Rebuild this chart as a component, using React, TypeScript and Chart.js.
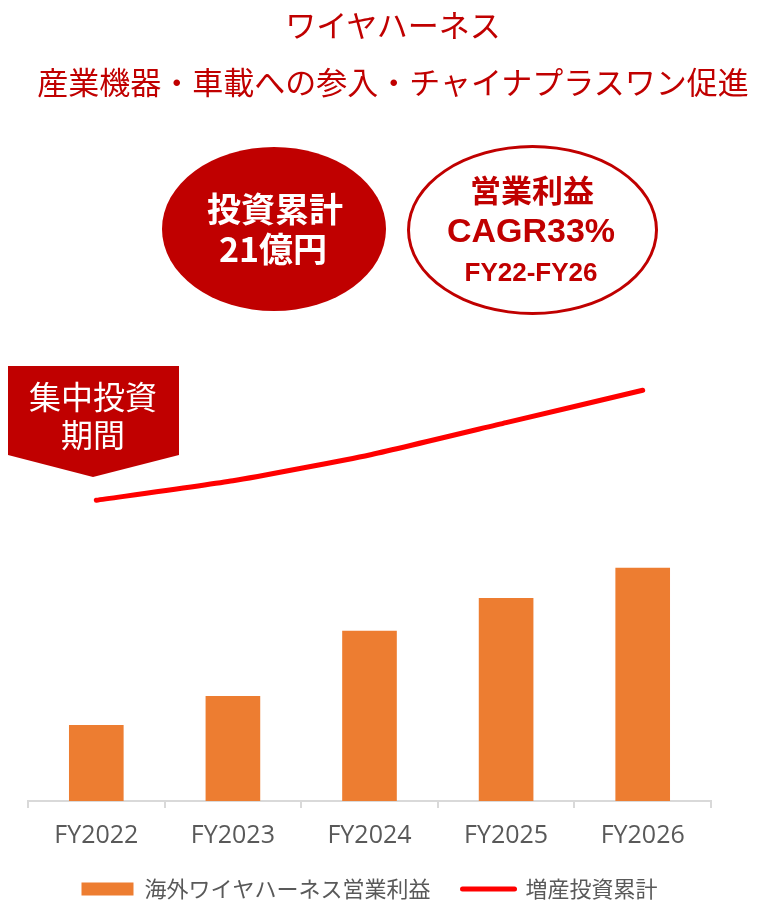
import React, { useEffect, useRef } from 'react';
import { Chart, registerables } from 'chart.js';

Chart.register(...registerables);

// ---- data ----
const categories = ['FY2022', 'FY2023', 'FY2024', 'FY2025', 'FY2026'];
const profitIndex = [100, 138, 224, 267, 307]; // 海外ワイヤハーネス営業利益 (FY2022 = 100)
const investCumulative = [4, 7, 11, 16, 21]; // 増産投資累計 (億円, estimated)
const profitLabel = '海外ワイヤハーネス営業利益';
const investLabel = '増産投資累計';
const titleLines = ['ワイヤハーネス', '産業機器・車載への参入・チャイナプラスワン促進'];
const leftBadge = ['投資累計', '21億円'];
const rightBadge = ['営業利益', 'CAGR33%', 'FY22-FY26'];
const bannerLines = ['集中投資', '期間'];

const RED = '#C00000';
const ORANGE = '#ED7D31';
const LINE_RED = '#FF0000';
const GREY = '#595959';
const AXIS = '#D9D9D9';
const JP = "'Noto Sans CJK JP', 'Noto Sans', sans-serif";
const LATIN_BOLD = "'Liberation Sans', Arial, sans-serif";

type TxtProps = {
  x: number;
  y: number;
  w: number;
  size: number;
  weight?: number;
  color: string;
  family?: string;
  k?: number;
  children: React.ReactNode;
};

function Txt({ x, y, w, size, weight = 400, color, family = JP, k = 0.64, children }: TxtProps) {
  return (
    <div
      style={{
        position: 'absolute',
        left: x - w / 2,
        top: y - k * size,
        width: w,
        textAlign: 'center',
        fontSize: size,
        lineHeight: `${size * 1.2}px`,
        fontWeight: weight,
        color,
        fontFamily: family,
        whiteSpace: 'nowrap',
      }}
    >
      {children}
    </div>
  );
}

export default function App() {
  const canvasRef = useRef<HTMLCanvasElement | null>(null);

  useEffect(() => {
    const canvas = canvasRef.current;
    if (!canvas) return;
    const chart = new Chart(canvas, {
      type: 'bar',
      data: {
        labels: categories,
        datasets: [
          {
            type: 'bar',
            label: profitLabel,
            data: profitIndex,
            backgroundColor: ORANGE,
            borderWidth: 0,
            barPercentage: 0.4,
            categoryPercentage: 1,
            yAxisID: 'y',
          },
          {
            type: 'line',
            label: investLabel,
            data: investCumulative,
            borderColor: LINE_RED,
            backgroundColor: LINE_RED,
            borderWidth: 5,
            borderCapStyle: 'round',
            borderJoinStyle: 'round',
            pointRadius: 0,
            tension: 0.15,
            yAxisID: 'y1',
          },
        ] as any,
      },
      options: {
        responsive: false,
        animation: false,
        devicePixelRatio: 1,
        layout: { padding: { top: 345, left: 28, right: 70, bottom: 0 } },
        plugins: {
          tooltip: { enabled: false },
          legend: {
            position: 'bottom',
            labels: {
              usePointStyle: true,
              pointStyleWidth: 52,
              boxWidth: 52,
              boxHeight: 13,
              padding: 32,
              color: GREY,
              font: { family: JP, size: 22 },
              generateLabels: (c: any) => {
                const items = Chart.defaults.plugins.legend.labels.generateLabels(c);
                return items.map((it: any, i: number) => ({
                  ...it,
                  pointStyle: i === 0 ? 'rect' : 'line',
                  lineWidth: i === 0 ? 0 : 5,
                  lineCap: 'round',
                }));
              },
            },
          },
        },
        scales: {
          x: {
            grid: {
              display: true,
              drawOnChartArea: false,
              drawTicks: true,
              tickLength: 7,
              color: AXIS,
              lineWidth: 2,
              offset: true,
            },
            border: { display: true, color: AXIS, width: 2 },
            ticks: {
              color: GREY,
              font: { family: "'Open Sans', sans-serif", size: 25 },
              padding: 13,
            },
            afterFit: (scale: any) => {
              scale.height = 45;
            },
          },
          y: { display: false, min: 0, max: 600 },
          y1: { display: false, min: -42.5, max: 28 },
        },
      } as any,
    });
    return () => chart.destroy();
  }, []);

  return (
    <div
      style={{
        position: 'fixed',
        left: 0,
        top: 0,
        width: 781,
        height: 910,
        overflow: 'hidden',
        background: '#fff',
      }}
    >
      <canvas
        ref={canvasRef}
        width={781}
        height={910}
        style={{ position: 'absolute', left: 0, top: 0, width: 781, height: 910 }}
      />

      {/* title */}
      <Txt x={393} y={25} w={781} size={31} color={RED}>{titleLines[0]}</Txt>
      <Txt x={393} y={82} w={781} size={31} color={RED}>{titleLines[1]}</Txt>

      {/* filled badge */}
      <div
        style={{
          position: 'absolute',
          left: 162,
          top: 147,
          width: 224,
          height: 164,
          borderRadius: '50%',
          background: RED,
        }}
      />
      <Txt x={275} y={210} w={220} size={34} weight={700} color="#fff">{leftBadge[0]}</Txt>
      <Txt x={273} y={250} w={220} size={34} weight={700} color="#fff">{leftBadge[1]}</Txt>

      {/* outlined badge */}
      <div
        style={{
          position: 'absolute',
          left: 407,
          top: 145,
          width: 251,
          height: 170,
          borderRadius: '50%',
          border: `3px solid ${RED}`,
          boxSizing: 'border-box',
          background: '#fff',
        }}
      />
      <Txt x={532} y={190} w={240} size={31} weight={700} color={RED}>{rightBadge[0]}</Txt>
      <Txt x={531} y={230} w={240} size={34} weight={700} color={RED} family={LATIN_BOLD} k={0.58}>{rightBadge[1]}</Txt>
      <Txt x={531} y={272} w={240} size={26} weight={700} color={RED} family={LATIN_BOLD} k={0.58}>{rightBadge[2]}</Txt>

      {/* banner */}
      <div
        style={{
          position: 'absolute',
          left: 8,
          top: 366,
          width: 171,
          height: 111,
          background: RED,
          clipPath: 'polygon(0 0, 100% 0, 100% 89px, 85px 100%, 0 89px)',
        }}
      />
      <Txt x={93} y={396} w={170} size={32} color="#fff">{bannerLines[0]}</Txt>
      <Txt x={93} y={434} w={170} size={32} color="#fff">{bannerLines[1]}</Txt>
    </div>
  );
}
